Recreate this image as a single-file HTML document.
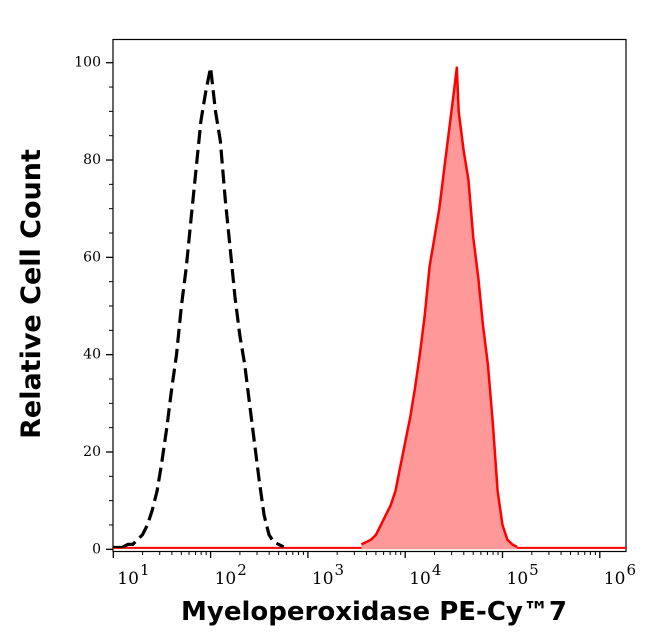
<!DOCTYPE html>
<html><head><meta charset="utf-8"><style>
html,body{margin:0;padding:0;background:#fff;width:646px;height:641px;overflow:hidden}
svg text{font-family:"DejaVu Serif","Liberation Serif",serif}
</style></head><body>
<svg id="chart" width="646" height="641">
<rect x="113" y="39.5" width="513" height="512" fill="none" stroke="#000" stroke-width="1.2"/>
<g id="ticks"></g>
<g id="series"></g>
<text x="40" y="294" transform="rotate(-90 40 294)" text-anchor="middle" font-size="27" font-weight="bold" style="font-family:'DejaVu Sans',sans-serif">Relative Cell Count</text>
<text x="374" y="620" text-anchor="middle" font-size="26" font-weight="bold" style="font-family:'DejaVu Sans',sans-serif">Myeloperoxidase PE-Cy™7</text>
</svg>
<script>
const xTickExps=[1,2,3,4,5,6];
const yTickVals=[0,20,40,60,80,100];
const blackLogs=[1.10,1.15,1.20,1.25,1.30,1.35,1.40,1.45,1.50,1.55,1.60,1.65,1.70,1.75,1.80,1.85,1.90,1.95,2.00,2.05,2.10,2.15,2.20,2.25,2.30,2.35,2.40,2.45,2.50,2.55,2.60,2.65,2.70,2.75];
const blackCounts=[0.5,1,1,2,3,5,8,12,18,25,33,40,50,58,68,78,88,94,99,90,84,72,62,52,44,38,30,22,14,7,3,1.5,1,0.5];
const redLogs=[3.55,3.60,3.65,3.70,3.75,3.80,3.85,3.90,3.95,4.00,4.05,4.10,4.15,4.20,4.25,4.30,4.35,4.40,4.45,4.50,4.53,4.55,4.60,4.65,4.70,4.75,4.80,4.85,4.90,4.95,5.00,5.05,5.10,5.15];
const redCounts=[1,1.5,2,3,5,7,9,12,17,22,27,33,40,48,58,64,70,78,86,94,99,90,82,76,64,56,46,38,26,12,5,2,1,0.5];
const NS='http://www.w3.org/2000/svg';
const X=l=>113.3+(l-1)*97.3;
const Y=v=>549.3-v*4.866;
const tg=document.getElementById('ticks'), sg=document.getElementById('series');
function mk(tag,attrs,parent){const e=document.createElementNS(NS,tag);for(const k in attrs)e.setAttribute(k,attrs[k]);parent.appendChild(e);return e;}
xTickExps.forEach(e=>{
  const l=mk('line',{x1:X(e),x2:X(e),y1:551.5,y2:558,stroke:'#000','stroke-width':1.3},tg);
  
  
  const t=mk('text',{x:X(e)+4,y:584,'text-anchor':'start','font-size':17},tg);
  
  
  t.textContent='10';
  const s=mk('tspan',{dy:-9,'font-size':15,dx:1},t);s.textContent=String(e);
  if(e<6)for(let k=2;k<10;k++){const m=mk('line',{x1:X(e+Math.log10(k)),x2:X(e+Math.log10(k)),y1:551.5,y2:555,stroke:'#000','stroke-width':1},tg);
  
  }
});
yTickVals.forEach(v=>{
  const l=mk('line',{x1:106,x2:113,y1:Y(v),y2:Y(v),stroke:'#000','stroke-width':1.3},tg);
  
  
  const t=mk('text',{x:101,y:Y(v)+4,'text-anchor':'end','font-size':14},tg);
  
  
  t.textContent=String(v);
  if(v<100)for(let k=1;k<4;k++){const m=mk('line',{x1:109,x2:113,y1:Y(v+k*5),y2:Y(v+k*5),stroke:'#000','stroke-width':1},tg);
  
  }
});
function pts(logs,counts){return logs.map((l,i)=>X(l).toFixed(1)+','+Y(counts[i]).toFixed(1)).join(' ');}
const rbase=mk('line',{x1:113,x2:626,y1:Y(0.3),y2:Y(0.3),stroke:'#f00','stroke-width':2},sg);


const rf=mk('polygon',{points:X(redLogs[0])+','+Y(0)+' '+pts(redLogs,redCounts)+' '+X(redLogs[redLogs.length-1])+','+Y(0),fill:'#ff9999',stroke:'none'},sg);


const rl=mk('polyline',{points:pts(redLogs,redCounts),fill:'none',stroke:'#f00','stroke-width':2.5,'stroke-linejoin':'round'},sg);


const bb=mk('line',{x1:113,x2:X(blackLogs[0]),y1:Y(0.5),y2:Y(0.5),stroke:'#000','stroke-width':2},sg);


const bl=mk('polyline',{points:pts(blackLogs,blackCounts),fill:'none',stroke:'#000','stroke-width':3.2,'stroke-dasharray':'14 6'},sg);


</script>
</body></html>
